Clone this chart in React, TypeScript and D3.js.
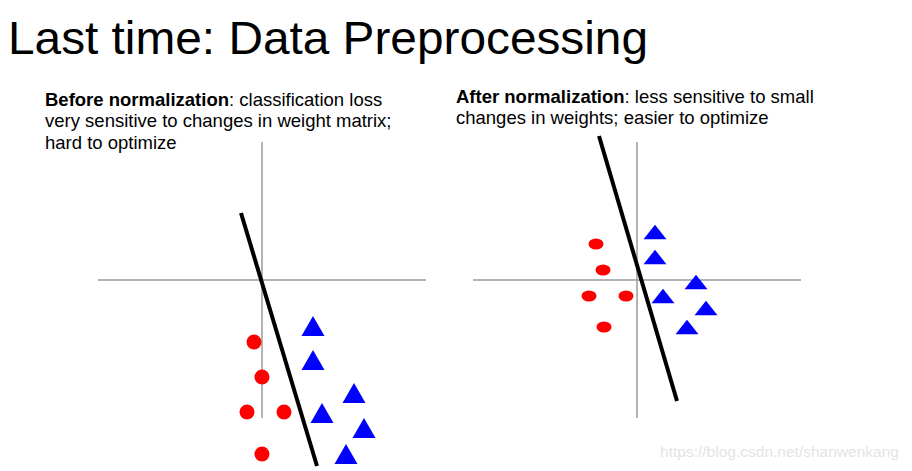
import React from "react";
import * as d3 from "d3";

// Data (units relative to each panel's axis origin)
const leftCirclesX = [-0.8, 0.0, -1.5, 2.2, 0.0];
const leftCirclesY = [-6.2, -9.7, -13.2, -13.2, -17.4];
const leftTrianglesX = [5.1, 5.1, 9.2, 6.0, 10.2, 8.4];
const leftTrianglesY = [-4.6, -8.0, -11.3, -13.3, -14.8, -17.4];
const leftLineX = [-2.1, 5.5];
const leftLineY = [6.7, -18.6];

const rightCirclesX = [-4.1, -3.4, -4.8, -1.1, -3.3];
const rightCirclesY = [3.6, 1.0, -1.6, -1.6, -4.7];
const rightTrianglesX = [1.8, 1.8, 5.9, 2.6, 6.9, 5.0];
const rightTrianglesY = [4.8, 2.3, -0.2, -1.6, -2.8, -4.7];
const rightLineX = [-3.8, 4.0];
const rightLineY = [14.4, -12.1];

const titleText = "Last time: Data Preprocessing";
const leftCaption = [
  { bold: "Before normalization", rest: ": classification loss" },
  { bold: "", rest: "very sensitive to changes in weight matrix;" },
  { bold: "", rest: "hard to optimize" },
];
const rightCaption = [
  { bold: "After normalization", rest: ": less sensitive to small" },
  { bold: "", rest: "changes in weights; easier to optimize" },
];
const watermark = "https://blog.csdn.net/shanwenkang";

const FONT = "'Liberation Sans', Arial, Helvetica, sans-serif";

type PanelProps = {
  ox: number;
  oy: number;
  cx: number[];
  cy: number[];
  tx: number[];
  ty: number[];
  lx: number[];
  ly: number[];
  crx: number;
  cry: number;
  tw: number;
  th: number;
};

function trianglePath(x: number, y: number, w: number, h: number) {
  const p = d3.path();
  p.moveTo(x, y - h / 2);
  p.lineTo(x + w / 2, y + h / 2);
  p.lineTo(x - w / 2, y + h / 2);
  p.closePath();
  return p.toString();
}

function Panel({ ox, oy, cx, cy, tx, ty, lx, ly, crx, cry, tw, th }: PanelProps) {
  const xs = d3.scaleLinear().domain([-16.4, 16.4]).range([ox - 164, ox + 164]);
  const ys = d3.scaleLinear().domain([-13.8, 13.8]).range([oy + 138, oy - 138]);
  const line = d3
    .line<number>()
    .x((_, i) => xs(lx[i]))
    .y((_, i) => ys(ly[i]));
  return (
    <g>
      <line x1={xs(-16.4)} x2={xs(16.4)} y1={ys(0)} y2={ys(0)} stroke="#9a9a9a" strokeWidth={1.5} />
      <line x1={xs(0)} x2={xs(0)} y1={ys(13.8)} y2={ys(-13.8)} stroke="#9a9a9a" strokeWidth={1.5} />
      <path d={line(lx) || ""} stroke="#000" strokeWidth={4} fill="none" />
      {cx.map((v, i) => (
        <ellipse key={"c" + i} cx={xs(v)} cy={ys(cy[i])} rx={crx} ry={cry} fill="#ff0000" />
      ))}
      {tx.map((v, i) => (
        <path key={"t" + i} d={trianglePath(xs(v), ys(ty[i]), tw, th)} fill="#0000ff" />
      ))}
    </g>
  );
}

function Caption({ x, y, lines }: { x: number; y: number; lines: { bold: string; rest: string }[] }) {
  return (
    <text x={x} y={y} fontFamily={FONT} fontSize={18.5} fill="#000">
      {lines.map((l, i) => (
        <tspan key={i} x={x} dy={i === 0 ? 0 : 21.3}>
          {l.bold && <tspan fontWeight="bold">{l.bold}</tspan>}
          {l.rest}
        </tspan>
      ))}
    </text>
  );
}

export default function App() {
  return (
    <svg
      width={912}
      height={471}
      style={{ position: "absolute", left: 0, top: 0, background: "#fff" }}
    >
      <rect width={912} height={471} fill="#fff" />
      <text x={8} y={54} fontFamily={FONT} fontSize={46} fill="#000" textLength={640} lengthAdjust="spacingAndGlyphs">
        {titleText}
      </text>
      <Caption x={45} y={106} lines={leftCaption} />
      <Caption x={456} y={103} lines={rightCaption} />
      <Panel
        ox={262}
        oy={280}
        cx={leftCirclesX}
        cy={leftCirclesY}
        tx={leftTrianglesX}
        ty={leftTrianglesY}
        lx={leftLineX}
        ly={leftLineY}
        crx={7.5}
        cry={7.5}
        tw={23}
        th={20}
      />
      <Panel
        ox={637}
        oy={280}
        cx={rightCirclesX}
        cy={rightCirclesY}
        tx={rightTrianglesX}
        ty={rightTrianglesY}
        lx={rightLineX}
        ly={rightLineY}
        crx={7.5}
        cry={5.5}
        tw={23}
        th={14.5}
      />
      <text x={660} y={457} fontFamily={FONT} fontSize={14} fill="#e4e4e4" textLength={239} lengthAdjust="spacingAndGlyphs">
        {watermark}
      </text>
    </svg>
  );
}
